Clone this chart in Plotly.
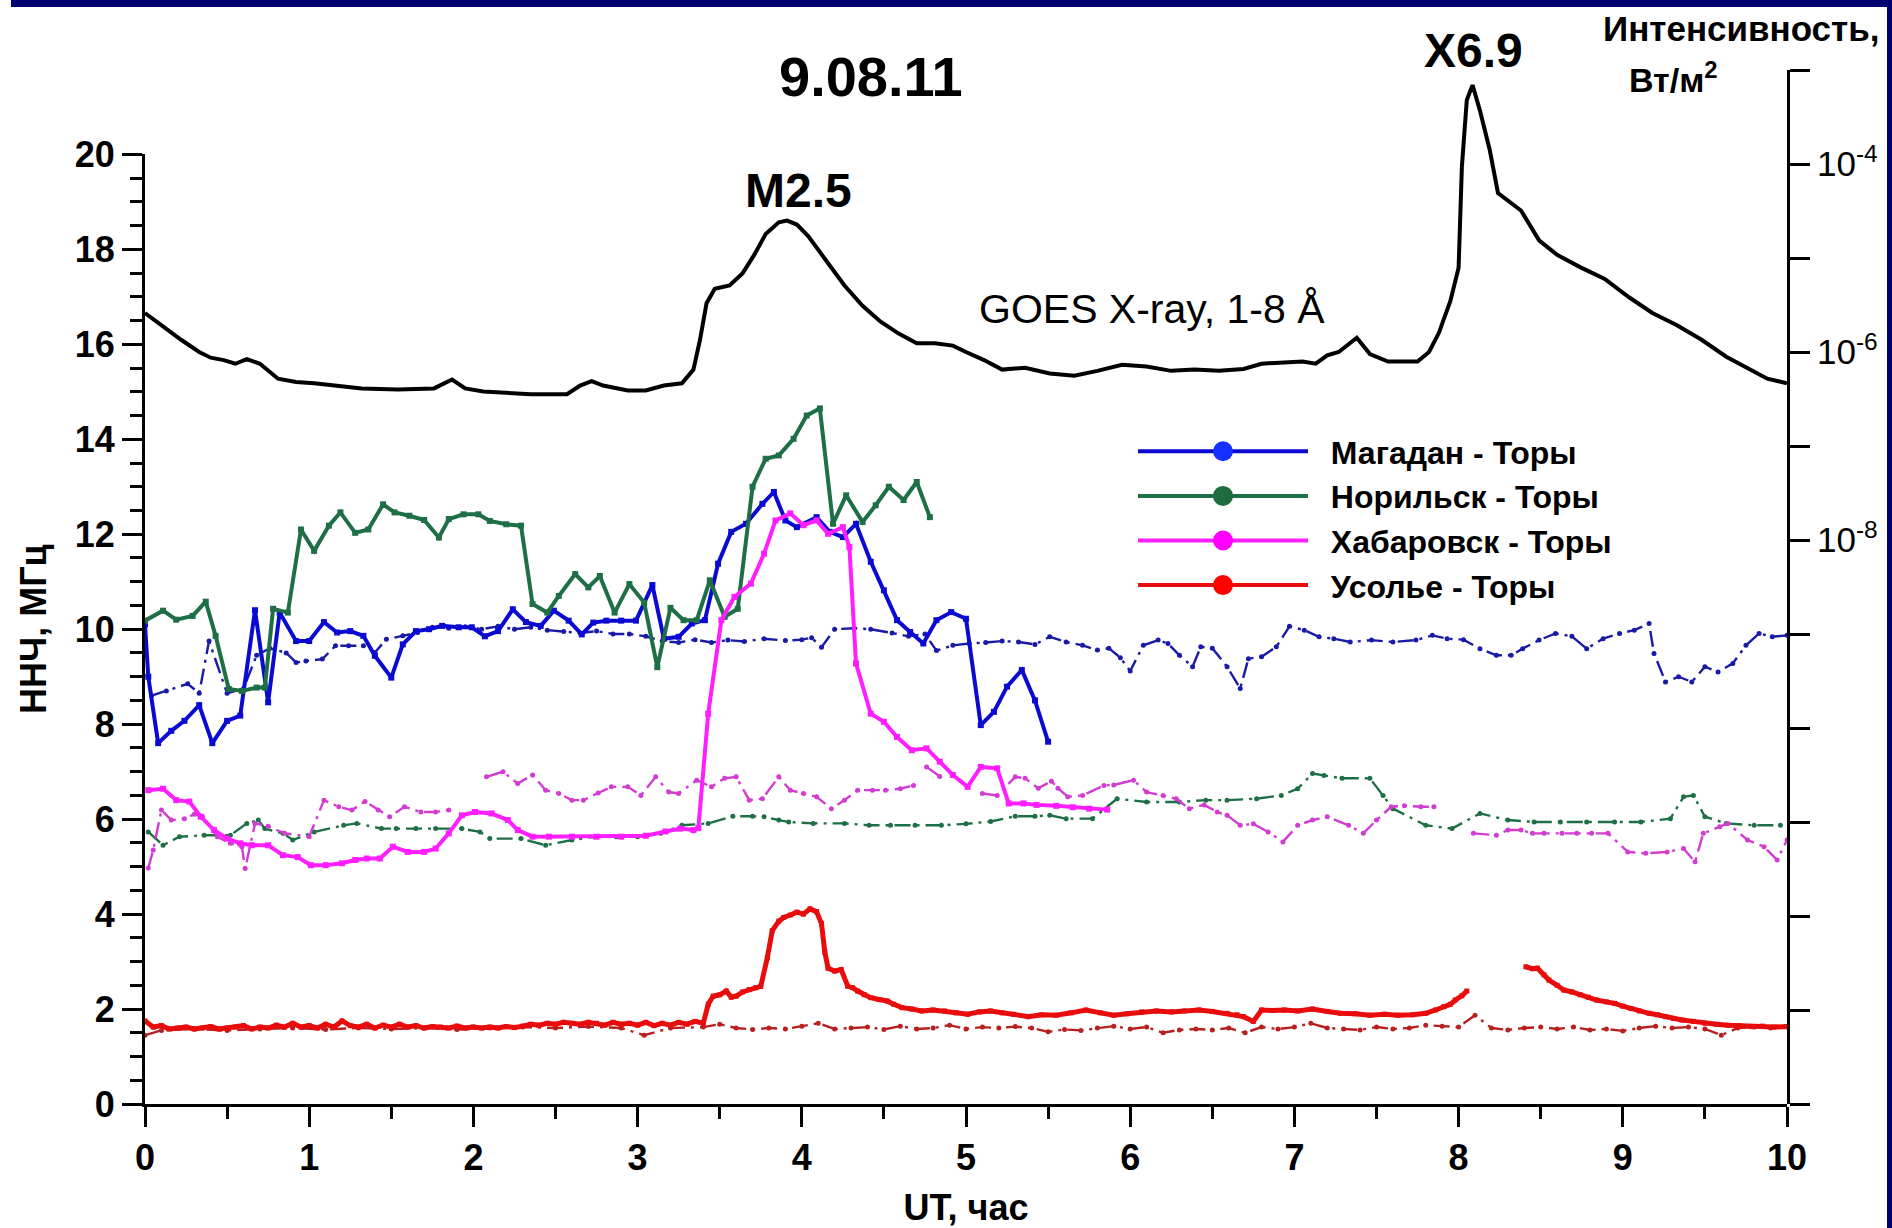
import plotly.graph_objects as go

# ---------------- GOES X-ray flux, 1-8 A (W/m^2) ----------------
goes_t = [0.00, 0.07, 0.22, 0.33, 0.40, 0.48, 0.55, 0.62, 0.70, 0.81, 0.92, 1.03, 1.18, 1.32,
          1.54, 1.76, 1.87, 1.95, 2.06, 2.20, 2.35, 2.57, 2.65, 2.72, 2.79, 2.94, 3.05, 3.16,
          3.27, 3.34, 3.38, 3.42, 3.47, 3.56, 3.64, 3.71, 3.78, 3.86, 3.91, 3.97, 4.04, 4.15,
          4.26, 4.37, 4.48, 4.59, 4.70, 4.81, 4.92, 5.00, 5.11, 5.22, 5.36, 5.51, 5.66, 5.80,
          5.95, 6.10, 6.25, 6.39, 6.54, 6.69, 6.80, 6.91, 7.05, 7.13, 7.20, 7.27, 7.38, 7.46,
          7.57, 7.75, 7.82, 7.88, 7.95, 8.00, 8.02, 8.05, 8.085, 8.13, 8.19, 8.24, 8.32, 8.38,
          8.49, 8.60, 8.74, 8.89, 9.04, 9.18, 9.33, 9.48, 9.63, 9.77, 9.88, 10.00]
goes_flux = [2.6e-6, 2.1e-6, 1.35e-6, 1.0e-6, 8.7e-7, 8.2e-7, 7.5e-7, 8.4e-7, 7.5e-7, 5.2e-7,
             4.8e-7, 4.65e-7, 4.4e-7, 4.1e-7, 4.0e-7, 4.1e-7, 5.1e-7, 4.1e-7, 3.8e-7, 3.65e-7,
             3.55e-7, 3.55e-7, 4.4e-7, 4.9e-7, 4.4e-7, 3.9e-7, 3.9e-7, 4.4e-7, 4.65e-7, 6.5e-7,
             1.35e-6, 3.3e-6, 4.7e-6, 5.1e-6, 6.9e-6, 1.08e-5, 1.8e-5, 2.4e-5, 2.5e-5, 2.27e-5,
             1.7e-5, 9.3e-6, 5.1e-6, 3.1e-6, 2.1e-6, 1.57e-6, 1.24e-6, 1.24e-6, 1.17e-6, 1.0e-6,
             8.2e-7, 6.5e-7, 6.8e-7, 5.9e-7, 5.6e-7, 6.3e-7, 7.3e-7, 7.0e-7, 6.3e-7, 6.5e-7,
             6.3e-7, 6.6e-7, 7.5e-7, 7.7e-7, 7.9e-7, 7.5e-7, 9.2e-7, 1.0e-6, 1.42e-6, 9.5e-7,
             7.9e-7, 7.9e-7, 1.0e-6, 1.6e-6, 3.5e-6, 7.9e-6, 9.3e-5, 4.8e-4, 6.9e-4, 3.7e-4,
             1.4e-4, 4.9e-5, 3.8e-5, 3.2e-5, 1.54e-5, 1.08e-5, 8.0e-6, 6.0e-6, 3.8e-6, 2.6e-6,
             1.93e-6, 1.35e-6, 8.9e-7, 6.5e-7, 5.2e-7, 4.65e-7]

# ---------------- Магадан - Торы ----------------
mag_t = [0.00, 0.02, 0.08, 0.16, 0.24, 0.33, 0.41, 0.50, 0.58, 0.67, 0.75, 0.82, 0.92, 1.00,
         1.09, 1.17, 1.25, 1.33, 1.40, 1.50, 1.57, 1.65, 1.73, 1.81, 1.91, 1.99, 2.07, 2.15,
         2.24, 2.32, 2.41, 2.49, 2.58, 2.66, 2.73, 2.81, 2.90, 2.99, 3.09, 3.16, 3.25, 3.33,
         3.41, 3.49, 3.57, 3.66, 3.76, 3.83, 3.90, 3.97, 4.09, 4.17, 4.25, 4.33, 4.42, 4.50,
         4.58, 4.66, 4.74, 4.82, 4.91, 5.00, 5.09, 5.17, 5.25, 5.34, 5.42, 5.50]
mag_v = [10.1, 9.0, 7.6, 7.86, 8.07, 8.4, 7.6, 8.07, 8.18, 10.4, 8.46, 10.35, 9.75, 9.75,
         10.15, 9.93, 9.96, 9.86, 9.44, 8.98, 9.68, 9.96, 10.0, 10.07, 10.04, 10.04, 9.85, 9.96,
         10.42, 10.15, 10.07, 10.39, 10.18, 9.89, 10.14, 10.18, 10.18, 10.18, 10.93, 9.8, 9.84, 10.12,
         10.19, 11.38, 12.05, 12.22, 12.64, 12.89, 12.29, 12.15, 12.36, 12.05, 11.94, 12.22, 11.42, 10.82,
         10.19, 9.94, 9.7, 10.19, 10.36, 10.22, 7.98, 8.26, 8.79, 9.14, 8.5, 7.63]

mag_q_t = [0.04, 0.13, 0.26, 0.33, 0.39, 0.50, 0.60, 0.68, 0.76, 0.86, 0.92, 0.98, 1.08, 1.16,
           1.24, 1.33, 1.40, 1.47, 1.57, 1.66, 1.75, 1.85, 1.95, 2.05, 2.15, 2.25, 2.35, 2.45,
           2.55, 2.65, 2.75, 2.85, 2.95, 3.05, 3.15, 3.25, 3.35, 3.45, 3.55, 3.65, 3.77, 3.90,
           4.00, 4.06, 4.12, 4.20, 4.32, 4.42, 4.55, 4.65, 4.75, 4.82, 4.92, 5.02, 5.12, 5.22,
           5.32, 5.42, 5.51, 5.61, 5.71, 5.80, 5.87, 5.94, 6.00, 6.08, 6.17, 6.23, 6.30, 6.38,
           6.43, 6.50, 6.59, 6.67, 6.72, 6.80, 6.89, 6.97, 7.06, 7.15, 7.24, 7.34, 7.47, 7.60,
           7.74, 7.84, 7.93, 8.03, 8.13, 8.23, 8.32, 8.39, 8.49, 8.59, 8.69, 8.78, 8.88, 8.98,
           9.07, 9.16, 9.19, 9.26, 9.34, 9.42, 9.50, 9.58, 9.67, 9.75, 9.83, 9.91, 10.00]
mag_q_v = [8.6, 8.7, 8.85, 8.65, 9.75, 8.65, 8.75, 9.45, 9.6, 9.5, 9.3, 9.33, 9.37, 9.65,
           9.65, 9.65, 9.51, 9.79, 9.86, 9.93, 10.04, 10.02, 10.05, 10.0, 10.06, 10.0, 10.04, 9.98,
           9.95, 9.92, 9.96, 9.9, 9.9, 9.85, 9.75, 9.72, 9.78, 9.72, 9.77, 9.74, 9.8, 9.76,
           9.78, 9.82, 9.62, 10.0, 10.02, 10.0, 9.92, 9.85, 9.9, 9.55, 9.66, 9.7, 9.72, 9.75,
           9.73, 9.68, 9.84, 9.73, 9.66, 9.56, 9.6, 9.4, 9.12, 9.66, 9.77, 9.7, 9.45, 9.21,
           9.63, 9.6, 9.21, 8.75, 9.38, 9.42, 9.63, 10.06, 9.98, 9.84, 9.8, 9.73, 9.77, 9.73,
           9.77, 9.87, 9.8, 9.78, 9.59, 9.45, 9.45, 9.59, 9.77, 9.91, 9.85, 9.59, 9.8, 9.91,
           9.98, 10.12, 9.49, 8.89, 9.0, 8.89, 9.21, 9.1, 9.28, 9.66, 9.91, 9.84, 9.87]

# ---------------- Норильск - Торы ----------------
nor_t = [0.00, 0.11, 0.19, 0.29, 0.37, 0.43, 0.51, 0.59, 0.68, 0.73, 0.78, 0.87, 0.95, 1.03,
         1.12, 1.19, 1.28, 1.36, 1.45, 1.52, 1.61, 1.70, 1.79, 1.85, 1.94, 2.03, 2.10, 2.20,
         2.29, 2.36, 2.45, 2.52, 2.62, 2.70, 2.77, 2.86, 2.95, 3.04, 3.12, 3.20, 3.28, 3.36,
         3.44, 3.53, 3.61, 3.70, 3.78, 3.86, 3.95, 4.03, 4.11, 4.19, 4.27, 4.37, 4.45, 4.53,
         4.62, 4.70, 4.78]
nor_v = [10.18, 10.39, 10.2, 10.28, 10.58, 9.86, 8.74, 8.7, 8.77, 8.77, 10.43, 10.35, 12.1, 11.65,
         12.18, 12.46, 12.03, 12.1, 12.63, 12.46, 12.39, 12.3, 11.93, 12.32, 12.42, 12.42, 12.28, 12.21,
         12.18, 10.53, 10.35, 10.7, 11.16, 10.88, 11.12, 10.35, 10.95, 10.56, 9.2, 10.45, 10.19, 10.19,
         11.03, 10.26, 10.43, 13.0, 13.59, 13.66, 14.01, 14.5, 14.65, 12.22, 12.82, 12.26, 12.61, 13.0,
         12.72, 13.1, 12.36]

nor_q_t = [0.02, 0.11, 0.21, 0.36, 0.52, 0.62, 0.69, 0.73, 0.84, 0.90, 1.03, 1.21, 1.29, 1.44,
           1.53, 1.65, 1.77, 1.93, 2.04, 2.10, 2.29, 2.44, 2.60, 2.74, 2.87, 3.00, 3.14, 3.27,
           3.43, 3.58, 3.70, 3.77, 3.86, 3.92, 4.07, 4.26, 4.41, 4.54, 4.69, 4.85, 5.00, 5.15,
           5.30, 5.42, 5.51, 5.61, 5.77, 5.92, 6.10, 6.30, 6.46, 6.59, 6.77, 6.92, 7.02, 7.11,
           7.18, 7.29, 7.46, 7.54, 7.60, 7.80, 7.96, 8.13, 8.30, 8.46, 8.62, 8.78, 8.95, 9.11,
           9.29, 9.37, 9.43, 9.50, 9.63, 9.80, 9.96]
nor_q_v = [5.73, 5.45, 5.63, 5.66, 5.66, 5.91, 5.98, 5.8, 5.7, 5.56, 5.73, 5.87, 5.91, 5.8,
           5.8, 5.8, 5.8, 5.8, 5.73, 5.59, 5.59, 5.45, 5.56, 5.63, 5.63, 5.63, 5.7, 5.87,
           5.91, 6.06, 6.06, 6.05, 5.98, 5.94, 5.91, 5.91, 5.87, 5.87, 5.87, 5.87, 5.9, 5.95,
           6.06, 6.06, 6.08, 6.01, 6.01, 6.43, 6.36, 6.36, 6.4, 6.4, 6.43, 6.5, 6.64, 6.96,
           6.92, 6.86, 6.86, 6.5, 6.22, 5.87, 5.8, 6.12, 5.98, 5.94, 5.94, 5.94, 5.94, 5.94,
           6.01, 6.47, 6.5, 6.05, 5.91, 5.87, 5.87]

# ---------------- Хабаровск - Торы ----------------
hab_t = [0.02, 0.11, 0.19, 0.27, 0.34, 0.42, 0.50, 0.58, 0.65, 0.75, 0.84, 0.93, 1.01, 1.10,
         1.20, 1.28, 1.35, 1.43, 1.51, 1.60, 1.70, 1.77, 1.85, 1.93, 2.01, 2.11, 2.21, 2.27,
         2.36, 2.46, 2.60, 2.75, 2.90, 3.05, 3.17, 3.26, 3.34, 3.37, 3.43, 3.51, 3.59, 3.69,
         3.77, 3.84, 3.93, 4.01, 4.09, 4.16, 4.25, 4.29, 4.33, 4.42, 4.50, 4.58, 4.67, 4.76,
         4.84, 4.92, 5.01, 5.09, 5.19, 5.26, 5.35, 5.43, 5.55, 5.65, 5.75, 5.86]
hab_v = [6.61, 6.64, 6.4, 6.37, 6.05, 5.77, 5.59, 5.49, 5.45, 5.45, 5.24, 5.2, 5.03, 5.03,
         5.07, 5.14, 5.17, 5.17, 5.42, 5.31, 5.31, 5.38, 5.7, 6.08, 6.15, 6.12, 5.98, 5.77,
         5.63, 5.63, 5.63, 5.63, 5.63, 5.65, 5.74, 5.8, 5.77, 5.81, 8.22, 10.19, 10.68, 10.96,
         11.59, 12.29, 12.44, 12.19, 12.29, 12.01, 12.15, 11.73, 9.28, 8.22, 8.05, 7.73, 7.45, 7.49,
         7.21, 6.93, 6.68, 7.1, 7.07, 6.33, 6.33, 6.3, 6.28, 6.25, 6.22, 6.2]

hab_q_t = [0.02, 0.05, 0.10, 0.16, 0.24, 0.30, 0.35, 0.44, 0.52, 0.59, 0.61, 0.67, 0.75, 0.85,
           1.00, 1.09, 1.18, 1.26, 1.34, 1.42, 1.49, 1.58, 1.68, 1.77, 1.85, None, 2.08, 2.18,
           2.27, 2.36, 2.44, 2.52, 2.60, 2.67, 2.76, 2.84, 2.94, 3.02, 3.11, 3.19, 3.25, 3.36,
           3.45, 3.53, 3.60, 3.68, 3.76, 3.86, 3.93, 4.01, 4.09, 4.18, 4.26, 4.34, 4.43, 4.51,
           4.60, 4.68, None, 4.76, 4.84, None, 5.10, 5.19, 5.30, 5.36, 5.44, 5.52, 5.56, 5.62,
           5.71, 5.84, 5.90, 6.02, 6.10, 6.20, 6.28, 6.36, 6.45, 6.53, 6.59, 6.67, 6.75, 6.84,
           6.93, 7.02, 7.11, 7.20, 7.33, 7.42, 7.50, 7.59, 7.67, 7.77, 7.85, None, 8.09, 8.23,
           8.30, 8.38, 8.45, 8.52, 8.63, 8.72, 8.81, 8.91, 9.03, 9.14, 9.27, 9.37, 9.44, 9.49,
           9.59, 9.64, 9.76, 9.86, 9.94, 10.00]
hab_q_v = [4.97, 5.35, 6.19, 5.98, 6.01, 6.1, 6.05, 5.63, 5.49, 5.42, 4.96, 5.91, 5.85, 5.7,
           5.63, 6.4, 6.26, 6.19, 6.37, 6.19, 6.05, 6.26, 6.15, 6.15, 6.19, None, 6.89, 7.0,
           6.75, 6.93, 6.61, 6.54, 6.4, 6.4, 6.55, 6.68, 6.68, 6.5, 6.89, 6.57, 6.54, 6.82,
           6.68, 6.86, 6.89, 6.4, 6.43, 6.89, 6.61, 6.54, 6.47, 6.22, 6.4, 6.61, 6.61, 6.61,
           6.64, 6.71, None, 7.1, 6.9, None, 6.54, 6.5, 6.89, 6.86, 6.65, 6.8, 6.65, 6.47,
           6.5, 6.71, 6.72, 6.82, 6.57, 6.5, 6.43, 6.22, 6.3, 6.15, 6.08, 5.87, 5.9, 5.73,
           5.52, 5.87, 5.98, 6.05, 5.87, 5.7, 5.98, 6.26, 6.28, 6.26, 6.26, None, 5.7, 5.66,
           5.77, 5.77, 5.7, 5.7, 5.7, 5.7, 5.7, 5.7, 5.31, 5.28, 5.31, 5.38, 5.1, 5.7,
           5.84, 5.91, 5.56, 5.42, 5.14, 5.56]

# ---------------- Усолье - Торы ----------------
usl_t = [0.00, 0.05, 0.10, 0.15, 0.20, 0.25, 0.30, 0.35, 0.40, 0.45, 0.50, 0.55, 0.60, 0.65,
         0.70, 0.75, 0.80, 0.85, 0.90, 0.95, 1.00, 1.05, 1.10, 1.15, 1.20, 1.25, 1.30, 1.35,
         1.40, 1.45, 1.50, 1.55, 1.60, 1.65, 1.70, 1.75, 1.80, 1.85, 1.90, 1.95, 2.00, 2.05,
         2.10, 2.15, 2.20, 2.25, 2.30, 2.35, 2.40, 2.45, 2.50, 2.55, 2.60, 2.65, 2.70, 2.75,
         2.80, 2.85, 2.90, 2.95, 3.00, 3.05, 3.10, 3.15, 3.20, 3.25, 3.30, 3.35, 3.40, 3.43,
         3.46, 3.50, 3.54, 3.57, 3.60, 3.64, 3.68, 3.72, 3.75, 3.79, 3.82, 3.86, 3.89, 3.93,
         3.97, 4.01, 4.05, 4.09, 4.12, 4.14, 4.16, 4.20, 4.24, 4.28, 4.31, 4.34, 4.38, 4.42,
         4.47, 4.52, 4.56, 4.61, 4.67, 4.73, 4.80, 4.87, 4.94, 5.01, 5.08, 5.15, 5.22, 5.29,
         5.38, 5.46, 5.55, 5.64, 5.73, 5.82, 5.90, 5.98, 6.07, 6.16, 6.25, 6.33, 6.42, 6.50,
         6.59, 6.65, 6.69, 6.75, 6.80, 6.87, 6.94, 7.02, 7.11, 7.20, 7.28, 7.37, 7.46, 7.55,
         7.63, 7.72, 7.80, 7.86, 7.91, 7.95, 7.98, 8.02, 8.05, None, 8.41, 8.45, 8.48, 8.52,
         8.55, 8.60, 8.64, 8.69, 8.74, 8.79, 8.84, 8.90, 8.95, 9.00, 9.05, 9.10, 9.16, 9.21,
         9.26, 9.31, 9.36, 9.43, 9.50, 9.57, 9.64, 9.71, 9.78, 9.85, 9.92, 10.00]
usl_v = [1.75, 1.62, 1.65, 1.58, 1.6, 1.62, 1.58, 1.6, 1.63, 1.58, 1.6, 1.62, 1.65, 1.58,
         1.62, 1.6, 1.66, 1.62, 1.7, 1.62, 1.65, 1.6, 1.68, 1.62, 1.75, 1.65, 1.62, 1.68,
         1.6, 1.66, 1.62, 1.68, 1.62, 1.65, 1.6, 1.63, 1.62, 1.6, 1.64, 1.6, 1.62, 1.6,
         1.62, 1.6, 1.63, 1.61, 1.64, 1.68, 1.66, 1.7, 1.68, 1.72, 1.7, 1.68, 1.72, 1.7,
         1.66, 1.72, 1.68, 1.7, 1.66, 1.72, 1.65, 1.7, 1.66, 1.72, 1.68, 1.74, 1.7, 2.1,
         2.27, 2.3, 2.38, 2.25, 2.27, 2.36, 2.41, 2.45, 2.48, 3.08, 3.65, 3.85, 3.93, 3.98,
         4.04, 4.0, 4.11, 4.05, 3.8, 3.2, 2.86, 2.8, 2.83, 2.48, 2.45, 2.38, 2.3, 2.24,
         2.2, 2.17, 2.1, 2.03, 2.0, 1.96, 1.98, 1.96, 1.92, 1.89, 1.94, 1.96, 1.92, 1.89,
         1.84, 1.88, 1.87, 1.92, 1.98, 1.92, 1.87, 1.9, 1.94, 1.96, 1.94, 1.96, 1.98, 1.95,
         1.91, 1.88, 1.84, 1.74, 1.98, 1.97, 1.98, 1.96, 2.0, 1.95, 1.91, 1.9, 1.87, 1.89,
         1.87, 1.88, 1.91, 1.98, 2.05, 2.1, 2.19, 2.28, 2.38, None, 2.89, 2.85, 2.86, 2.72,
         2.61, 2.5, 2.4, 2.36, 2.3, 2.25, 2.19, 2.15, 2.12, 2.06, 2.01, 1.96, 1.91, 1.88,
         1.84, 1.8, 1.77, 1.74, 1.7, 1.68, 1.66, 1.65, 1.63, 1.64, 1.62, 1.63]

usl_q_t = [0.0, 0.1, 0.3, 0.5, 0.7, 0.9, 1.1, 1.3, 1.5, 1.7, 1.9, 2.1, 2.3, 2.5, 2.7, 2.9,
           3.04, 3.2, 3.4, 3.5, 3.6, 3.7, 3.8, 3.9, 4.0, 4.1, 4.2, 4.3, 4.4, 4.5, 4.6, 4.7,
           4.8, 4.9, 5.0, 5.1, 5.2, 5.3, 5.4, 5.5, 5.6, 5.7, 5.8, 5.9, 6.0, 6.1, 6.2, 6.3,
           6.4, 6.5, 6.6, 6.7, 6.8, 6.9, 7.0, 7.1, 7.2, 7.3, 7.4, 7.5, 7.6, 7.7, 7.8, 7.9,
           8.0, 8.1, 8.2, 8.3, 8.4, 8.5, 8.6, 8.7, 8.8, 8.9, 9.0, 9.1, 9.2, 9.3, 9.4, 9.5,
           9.6, 9.7, 9.8, 9.9, 10.0]
usl_q_v = [1.45, 1.55, 1.58, 1.55, 1.58, 1.6, 1.57, 1.6, 1.58, 1.6, 1.57, 1.6, 1.62, 1.6, 1.63, 1.6,
           1.45, 1.6, 1.62, 1.68, 1.6, 1.57, 1.6, 1.58, 1.64, 1.7, 1.58, 1.6, 1.62, 1.57, 1.64, 1.58,
           1.6, 1.66, 1.58, 1.62, 1.6, 1.63, 1.6, 1.52, 1.57, 1.55, 1.6, 1.64, 1.58, 1.62, 1.5, 1.56,
           1.58, 1.56, 1.6, 1.5, 1.62, 1.58, 1.62, 1.7, 1.6, 1.58, 1.56, 1.62, 1.58, 1.6, 1.66, 1.64,
           1.62, 1.87, 1.6, 1.56, 1.6, 1.62, 1.58, 1.62, 1.56, 1.58, 1.54, 1.6, 1.64, 1.6, 1.62, 1.58,
           1.45, 1.6, 1.62, 1.6, 1.62]

# ---------------- labels ----------------
station_names = ["Магадан - Торы", "Норильск - Торы", "Хабаровск - Торы", "Усолье - Торы"]
flux_tick_vals = [1e-14, 1e-13, 1e-12, 1e-11, 1e-10, 1e-9, 1e-8, 1e-7, 1e-6, 1e-5, 1e-4, 1e-3]
flux_tick_text = ["", "", "", "", "", "", "10<sup>-8</sup>", "", "10<sup>-6</sup>", "",
                  "10<sup>-4</sup>", ""]

# ---------------- styling ----------------
FONT = "Liberation Sans, Arial, sans-serif"
W, H = 1892, 1228
ML, MR, MT, MB = 145, 105, 70, 124
PW, PH = W - ML - MR, H - MT - MB

def paper_x(px):
    return (px - ML) / PW

def paper_y(py):
    return (H - MB - py) / PH

colors_day = ["#0A0AD2", "#1E6E46", "#FF1EFF", "#E80C0C"]
colors_quiet = ["#1A1AA8", "#1E6E46", "#D23CD0", "#B82020"]
legend_marker = ["#1530FF", "#1E6B40", "#FF00FF", "#FF0000"]
QUIET_DASH = "16px,6px,3px,6px"

fig = go.Figure()

day_series = [(mag_t, mag_v), (nor_t, nor_v), (hab_t, hab_v), (usl_t, usl_v)]
quiet_series = [(mag_q_t, mag_q_v), (nor_q_t, nor_q_v), (hab_q_t, hab_q_v), (usl_q_t, usl_q_v)]

# quiet-day reference curves (dash-dot with small dots)
for (t, v), c in zip(quiet_series, colors_quiet):
    fig.add_trace(go.Scatter(
        x=t, y=v, mode="lines+markers", showlegend=False, cliponaxis=False,
        line=dict(color=c, width=2.4, dash=QUIET_DASH),
        marker=dict(symbol="circle", size=5, color=c),
        hoverinfo="skip"))

# event-day curves (solid with squares)
for i, ((t, v), c) in enumerate(zip(day_series, colors_day)):
    fig.add_trace(go.Scatter(
        x=t, y=v, mode="lines+markers", showlegend=False, cliponaxis=False,
        line=dict(color=c, width=4 if i < 3 else 5),
        marker=dict(symbol="square", size=6 if i < 3 else 5, color=c),
        hoverinfo="skip"))

# legend entries
for name, c, mc in zip(station_names, colors_day, legend_marker):
    fig.add_trace(go.Scatter(
        x=[None], y=[None], mode="lines+markers", name="\u00a0\u00a0" + name,
        line=dict(color=c, width=4),
        marker=dict(symbol="circle", size=16, color=mc, line=dict(color=mc, width=4))))

# GOES X-ray flux on the right logarithmic axis
fig.add_trace(go.Scatter(
    x=goes_t, y=goes_flux, mode="lines", yaxis="y2", showlegend=False,
    line=dict(color="black", width=4), hoverinfo="skip"))

axis_common = dict(
    showline=True, linecolor="black", linewidth=3, mirror=False, automargin=False,
    ticks="outside", ticklen=20, tickwidth=3, tickcolor="black",
    showgrid=False, zeroline=False,
    tickfont=dict(family=FONT, size=36, color="black", weight="bold"),
)

fig.update_layout(
    width=W, height=H,
    margin=dict(l=ML, r=MR, t=MT, b=MB, pad=0, autoexpand=False),
    paper_bgcolor="white", plot_bgcolor="rgba(0,0,0,0)",
    font=dict(family=FONT, color="black"),
    xaxis=dict(
        range=[0, 10], domain=[0, 1], anchor="y", tick0=0, dtick=1,
        minor=dict(dtick=0.5, ticklen=12, tickwidth=3, ticks="outside", tickcolor="black"),
        title=dict(text="UT, час", standoff=22,
                   font=dict(family=FONT, size=36, color="black", weight="bold")),
        **axis_common),
    yaxis=dict(
        range=[0, 20], domain=[0, paper_y(154.4)], anchor="x", tick0=0, dtick=2,
        minor=dict(dtick=0.5, ticklen=12, tickwidth=3, ticks="outside", tickcolor="black"),
        title=dict(text="ННЧ, МГц", standoff=18,
                   font=dict(family=FONT, size=36, color="black", weight="bold")),
        **axis_common),
    yaxis2=dict(
        type="log", range=[-14, -3], domain=[0, 1], anchor="x", side="right",
        tickmode="array", tickvals=flux_tick_vals, ticktext=flux_tick_text,
        showline=True, linecolor="black", linewidth=3, automargin=False,
        ticks="outside", ticklen=20, tickwidth=3, tickcolor="black",
        showgrid=False, zeroline=False,
        tickfont=dict(family=FONT, size=35, color="black"),
    ),
    legend=dict(
        x=paper_x(1133), y=paper_y(424), xanchor="left", yanchor="top",
        bgcolor="rgba(255,255,255,0)", borderwidth=0, itemwidth=170,
        font=dict(family=FONT, size=32, color="black", weight="bold"),
        tracegroupgap=0, itemclick=False, itemdoubleclick=False,
    ),
    showlegend=True,
)

annotations = [
    dict(text="<b>9.08.11</b>", x=paper_x(871), y=paper_y(76), font=dict(size=56)),
    dict(text="<b>M2.5</b>", x=paper_x(798), y=paper_y(190), font=dict(size=48)),
    dict(text="<b>X6.9</b>", x=paper_x(1473), y=paper_y(51), font=dict(size=48)),
    dict(text="GOES X-ray, 1-8 Å", x=paper_x(1152), y=paper_y(309), font=dict(size=41)),
    dict(text="<b>Интенсивность,</b>", x=paper_x(1741), y=paper_y(28), font=dict(size=35)),
    dict(text="<b>Вт/м<sup>2</sup></b>", x=paper_x(1673), y=paper_y(78), font=dict(size=34)),
]
for a in annotations:
    a.update(xref="paper", yref="paper", showarrow=False, xanchor="center", yanchor="middle")
    a["font"].update(family=FONT, color="black")
fig.update_layout(annotations=annotations)

# navy slide frame along the top and right edges
NAVY = "#000070"
fig.add_shape(type="rect", xref="paper", yref="paper", layer="above", line_width=0,
              fillcolor=NAVY, x0=paper_x(11), x1=paper_x(W + 2), y0=paper_y(7), y1=paper_y(-2))
fig.add_shape(type="rect", xref="paper", yref="paper", layer="above", line_width=0,
              fillcolor=NAVY, x0=paper_x(1887), x1=paper_x(W + 2), y0=paper_y(H + 2), y1=paper_y(-2))

fig.write_html("out.html")
